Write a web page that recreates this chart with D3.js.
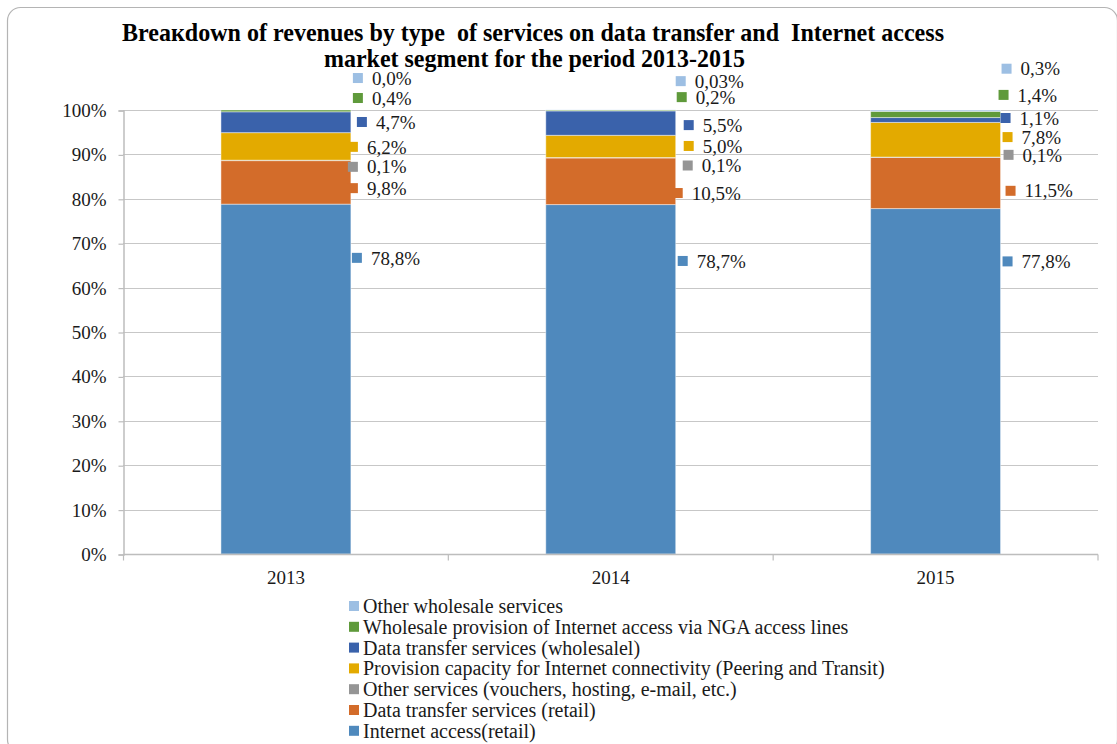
<!DOCTYPE html>
<html>
<head>
<meta charset="utf-8">
<script src="https://cdn.jsdelivr.net/npm/d3@7"></script>
<style>
  html, body { margin: 0; padding: 0; background: #fff; }
  svg { display: block; font-family: "Liberation Serif", "Times New Roman", serif; }
  .title-line { white-space: pre; }
</style>
</head>
<body>
<svg id="chart" width="1117" height="744"></svg>
<script>
// Years on the category axis
const years = ["2013", "2014", "2015"];

// Revenue shares (%) per service type, stacked bottom to top
const internetAccessRetail   = [78.8, 78.7, 77.8];
const dataTransferRetail     = [9.8, 10.5, 11.5];
const otherServices          = [0.1, 0.1, 0.1];
const provisionCapacity      = [6.2, 5.0, 7.8];
const dataTransferWholesale  = [4.7, 5.5, 1.1];
const wholesaleNGA           = [0.4, 0.2, 1.4];
const otherWholesale         = [0.0, 0.03, 0.3];

const seriesNames = [
  "Internet access(retail)",
  "Data transfer services (retail)",
  "Other services (vouchers, hosting, e-mail, etc.)",
  "Provision capacity for Internet connectivity (Peering and Transit)",
  "Data transfer services (wholesalel)",
  "Wholesale provision of Internet access via NGA access lines",
  "Other wholesale services"
];
const seriesValues = [
  internetAccessRetail, dataTransferRetail, otherServices, provisionCapacity,
  dataTransferWholesale, wholesaleNGA, otherWholesale
];
const seriesColors = ["#4f89bd", "#d36c2a", "#959595", "#e3aa00", "#3a62ab", "#5f9a3b", "#9dbfe3"];

// Percent axis ticks
const yTicks = [0, 10, 20, 30, 40, 50, 60, 70, 80, 90, 100];

// Data label placement: level on the percent scale where each label sits,
// and a horizontal nudge (px) of its key from the bar's right edge
const labelLevel = [
  [66.7, 82.4, 87.2, 91.7, 97.3, 102.7, 107.2],
  [66.0, 81.3, 87.5, 91.9, 96.6, 102.9, 106.5],
  [65.9, 81.8, 89.9, 93.9, 98.2, 103.4, 109.3]
];
const labelNudge = [
  [1, -3, -3, -3, 6, 2, 2],
  [2, -3, 7, 8, 8, 1, 0],
  [2, 5, 3, 2, 0, -2, 1]
];

const svg = d3.select("#chart");
const textColor = "#1a1a1a";

// Chart frame
svg.append("rect")
  .attr("x", 7.5).attr("y", 7.5)
  .attr("width", 1110).attr("height", 745)
  .attr("rx", 13).attr("ry", 13)
  .attr("fill", "#fff")
  .attr("stroke", "#b4b4b4").attr("stroke-width", 1.2);

// Title (two lines, condensed to fit; double spaces kept)
const title = svg.append("g").attr("font-weight", "bold").attr("fill", "#000")
  .attr("font-size", 24.5).attr("text-anchor", "middle");
title.append("text").attr("class", "title-line")
  .attr("xml:space", "preserve")
  .attr("x", 533).attr("y", 41)
  .attr("textLength", 822).attr("lengthAdjust", "spacingAndGlyphs")
  .text("Breaкdown of revenues by type\u00a0 of services on data transfer and\u00a0 Internet access");
title.append("text").attr("class", "title-line")
  .attr("x", 534.5).attr("y", 67)
  .attr("textLength", 421).attr("lengthAdjust", "spacingAndGlyphs")
  .text("market segment for the period 2013-2015");

// Scales
const x = d3.scaleBand().domain(years).range([123.5, 1098]).paddingInner(0.6).paddingOuter(0.3);
const y = d3.scaleLinear().domain([0, 100]).range([554, 110]);

// Horizontal dotted gridlines
svg.append("g")
  .selectAll("line")
  .data(yTicks.filter(t => t > 0))
  .join("line")
  .attr("x1", 123.5).attr("x2", 1098)
  .attr("y1", d => Math.round(y(d)) + 0.5).attr("y2", d => Math.round(y(d)) + 0.5)
  .attr("stroke", "#8f8f8f").attr("stroke-width", 1)
  .attr("stroke-dasharray", "1,1");

// Y axis
const yAxis = svg.append("g")
  .attr("transform", "translate(123.5,0.5)")
  .call(d3.axisLeft(y).tickValues(yTicks).tickSize(5).tickPadding(12)
    .tickFormat(d => d + "%"));
yAxis.select(".domain").attr("stroke", "#bdbdbd").attr("stroke-width", 1.5);
yAxis.selectAll(".tick line").attr("stroke", "#bdbdbd").attr("stroke-width", 1.2);
yAxis.selectAll(".tick text")
  .attr("font-size", 19).attr("fill", textColor)
  .attr("font-family", "Liberation Serif, Times New Roman, serif");

// Stack the series
const rows = years.map((yr, i) => {
  const r = { year: yr };
  seriesNames.forEach((s, k) => { r[s] = seriesValues[k][i]; });
  return r;
});
const stacked = d3.stack().keys(seriesNames)(rows);

// Bars
svg.append("g")
  .selectAll("g")
  .data(stacked)
  .join("g")
  .attr("fill", (d, k) => seriesColors[k])
  .selectAll("rect")
  .data(d => d)
  .join("rect")
  .attr("x", d => x(d.data.year))
  .attr("width", x.bandwidth())
  .attr("y", d => y(d[1]))
  .attr("height", d => Math.max(0, y(d[0]) - y(d[1])))
  .attr("stroke", "rgba(255,255,255,0.45)")
  .attr("stroke-width", 1);

// X axis: line with ticks at category boundaries
const xAxisG = svg.append("g").attr("transform", "translate(0,554.5)");
xAxisG.append("line")
  .attr("x1", 123.5).attr("x2", 1098)
  .attr("stroke", "#bdbdbd").attr("stroke-width", 1.5);
const step = x.step();
const boundaries = d3.range(years.length + 1).map(i => 123.5 + i * step);
xAxisG.selectAll("line.tick")
  .data(boundaries)
  .join("line").attr("class", "tick")
  .attr("x1", d => d).attr("x2", d => d)
  .attr("y1", 0).attr("y2", 6)
  .attr("stroke", "#bdbdbd").attr("stroke-width", 1.2);
xAxisG.selectAll("text")
  .data(years)
  .join("text")
  .attr("x", d => x(d) + x.bandwidth() / 2)
  .attr("y", 23)
  .attr("dy", "0.35em")
  .attr("text-anchor", "middle")
  .attr("font-size", 19).attr("fill", textColor)
  .text(d => d);

// Data labels with colored keys
const fmt = v => {
  const digits = Number.isInteger(Math.round(v * 1000) / 100) ? 1 : 2;
  return v.toFixed(digits).replace(".", ",") + "%";
};
const labels = [];
years.forEach((yr, i) => {
  seriesNames.forEach((s, k) => {
    labels.push({
      year: yr, k: k, value: seriesValues[k][i],
      level: labelLevel[i][k], nudge: labelNudge[i][k]
    });
  });
});
const lab = svg.append("g").selectAll("g")
  .data(labels)
  .join("g")
  .attr("transform", d => `translate(${x(d.year) + x.bandwidth() + d.nudge},${y(d.level)})`);
lab.append("rect")
  .attr("x", 0).attr("y", -5)
  .attr("width", 10).attr("height", 10)
  .attr("fill", d => seriesColors[d.k]);
lab.append("text")
  .attr("x", 19).attr("dy", "0.35em")
  .attr("font-size", 19).attr("fill", textColor)
  .text(d => fmt(d.value));

// Legend (top entry is the top of the stack)
const legendOrder = d3.range(seriesNames.length).reverse();
const legend = svg.append("g").selectAll("g")
  .data(legendOrder)
  .join("g")
  .attr("transform", (d, i) => `translate(349,${606 + i * 20.8})`);
legend.append("rect")
  .attr("x", 0).attr("y", -5)
  .attr("width", 10).attr("height", 10)
  .attr("fill", d => seriesColors[d]);
legend.append("text")
  .attr("x", 14).attr("dy", "0.35em")
  .attr("font-size", 20).attr("fill", textColor)
  .text(d => seriesNames[d]);
</script>
</body>
</html>
